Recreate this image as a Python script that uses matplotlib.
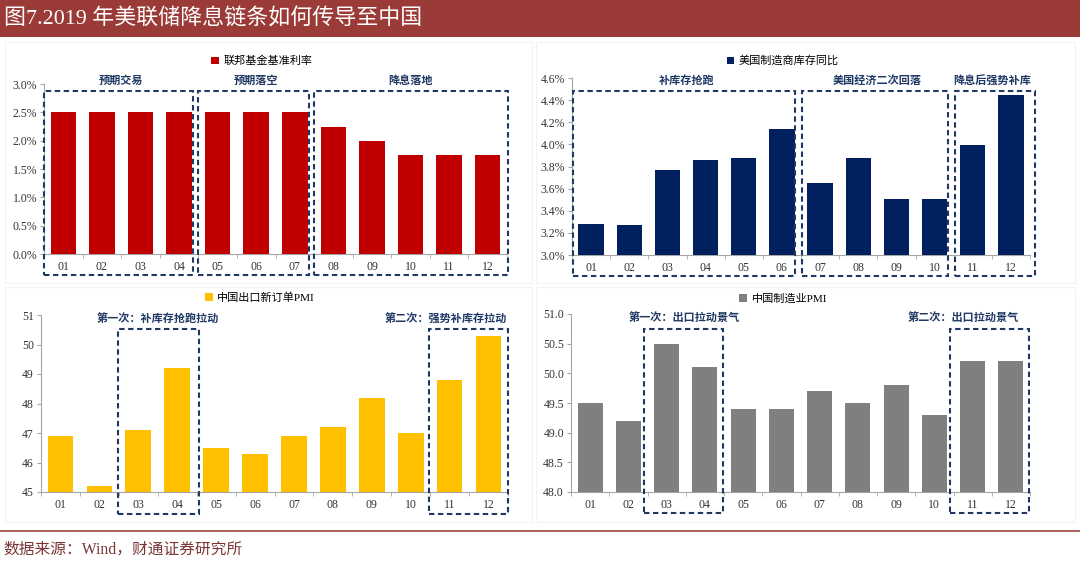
import matplotlib
matplotlib.use("Agg")
import matplotlib.pyplot as plt
from matplotlib.patches import Rectangle
from matplotlib.lines import Line2D
import matplotlib.ticker as mticker

plt.rcParams['font.family'] = ['Liberation Serif', 'Noto Sans CJK SC', 'DejaVu Sans']

# ---------------- data ----------------
months = ['01', '02', '03', '04', '05', '06', '07', '08', '09', '10', '11', '12']

fed_rate = [2.5, 2.5, 2.5, 2.5, 2.5, 2.5, 2.5, 2.25, 2.0, 1.75, 1.75, 1.75]
us_inventory = [3.28, 3.27, 3.77, 3.86, 3.88, 4.14, 3.65, 3.88, 3.51, 3.51, 3.99, 4.45]
cn_export_pmi = [46.9, 45.2, 47.1, 49.2, 46.5, 46.3, 46.9, 47.2, 48.2, 47.0, 48.8, 50.3]
cn_mfg_pmi = [49.5, 49.2, 50.5, 50.1, 49.4, 49.4, 49.7, 49.5, 49.8, 49.3, 50.2, 50.2]

title = '图7.2019 年美联储降息链条如何传导至中国'
source = '数据来源：Wind，财通证券研究所'

leg_fed = '联邦基金基准利率'
leg_inv = '美国制造商库存同比'
leg_exp = '中国出口新订单PMI'
leg_mfg = '中国制造业PMI'

# groups: (first index, last index, label)
fed_groups = [(0, 3, '预期交易'), (4, 6, '预期落空'), (7, 11, '降息落地')]
inv_groups = [(0, 5, '补库存抢跑'), (6, 9, '美国经济二次回落'), (10, 11, '降息后强势补库')]
exp_groups = [(2, 3, '第一次：补库存抢跑拉动'), (10, 11, '第二次：强势补库存拉动')]
mfg_groups = [(2, 3, '第一次：出口拉动景气'), (10, 11, '第二次：出口拉动景气')]

# ---------------- figure ----------------
W, H = 1080, 565
fig = plt.figure(figsize=(W / 100, H / 100), dpi=100)
fig.patch.set_facecolor('white')

NAVY = '#1F3864'
BOX = '#1F3864'


def px_axes(x0, y0, x1, y1):
    return fig.add_axes([x0 / W, 1 - y1 / H, (x1 - x0) / W, (y1 - y0) / H])


def fig_rect(x0, y0, x1, y1, **kw):
    fig.add_artist(Rectangle((x0 / W, 1 - y1 / H), (x1 - x0) / W, (y1 - y0) / H,
                             transform=fig.transFigure, **kw))


# title bar
fig_rect(0, 0, W, 37, facecolor='#9B3B38', edgecolor='none')
fig.text(4 / W, 1 - 19 / H, title, color='white', fontsize=15.8, va='center', ha='left')

# faint panel borders
for (a, b, c, d) in [(5, 42, 532, 283), (536, 42, 1075, 283), (5, 287, 532, 522), (536, 287, 1075, 522)]:
    fig_rect(a, b, c, d, facecolor='none', edgecolor='#F3F3F3', lw=0.8)

# bottom line and source
fig.add_artist(Line2D([0, 1], [1 - 531 / H, 1 - 531 / H], transform=fig.transFigure,
                      color='#A55050', lw=1.3))
fig.text(3 / W, 1 - 550 / H, source, color='#7A3535', fontsize=11.3, va='center', ha='left')


def style_axes(ax, ylim, yticks, fmt):
    x = list(range(len(months)))
    ax.set_xlim(-0.5, len(months) - 0.5)
    ax.set_ylim(*ylim)
    ax.set_yticks(yticks)
    ax.yaxis.set_major_formatter(mticker.FuncFormatter(fmt))
    ax.set_xticks(x)
    ax.set_xticklabels(months)
    ax.set_xticks([i + 0.5 for i in range(-1, len(months))], minor=True)
    for s in ['top', 'right']:
        ax.spines[s].set_visible(False)
    for s in ['left', 'bottom']:
        ax.spines[s].set_color('#A6A6A6')
        ax.spines[s].set_linewidth(0.8)
    ax.tick_params(axis='y', length=3, color='#A6A6A6', labelsize=8.5, labelcolor='#333333', pad=2)
    ax.tick_params(axis='x', which='major', length=0, labelsize=8.5, labelcolor='#333333', pad=5)
    ax.tick_params(axis='x', which='minor', length=3, color='#A6A6A6', direction='out')
    ax.set_facecolor('none')


def draw_box(ax, i0, i1, ytop, ybot, pad_l=0.03, pad_r=0.1):
    tr = ax.get_xaxis_transform()
    xa = i0 - 0.5 + pad_l
    xb = i1 + 0.5 - pad_r
    ax.add_patch(Rectangle((xa, ybot), xb - xa, ytop - ybot, transform=tr, fill=False,
                           edgecolor=BOX, lw=1.5, linestyle=(0, (2.6, 1.7)), clip_on=False, zorder=5))


def legend(ax, color, label, xc, yc):
    h = Rectangle((0, 0), 1, 1, facecolor=color, edgecolor='none')
    ax.legend([h], [label], loc='center', bbox_to_anchor=(xc, yc), frameon=False,
              fontsize=8, handlelength=0.7, handleheight=0.7, handletextpad=0.4,
              borderaxespad=0, borderpad=0)


pct = lambda v, p: f'{v:.1f}%'
integer = lambda v, p: f'{v:.0f}'
one = lambda v, p: f'{v:.1f}'

x = list(range(len(months)))
bw = 0.66

# ---- top-left: Fed funds rate ----
ax1 = px_axes(44, 84, 507, 254)
ax1.bar(x, fed_rate, width=bw, color='#C00000', zorder=3)
style_axes(ax1, (0, 3.0), [0, 0.5, 1.0, 1.5, 2.0, 2.5, 3.0], pct)
legend(ax1, '#C00000', leg_fed, 0.47, 1.135)
for k, (i0, i1, lab) in enumerate(fed_groups):
    draw_box(ax1, i0, i1, 0.959, -0.124, pad_l=0.0, pad_r=0.13 if k < 2 else -0.03)
    ax1.text((i0 + i1) / 2, 1.02, lab, transform=ax1.get_xaxis_transform(), ha='center', va='center',
             fontsize=8, color=NAVY, fontweight='bold')

# ---- top-right: US manufacturer inventories ----
ax2 = px_axes(572, 78, 1030, 255)
ax2.bar(x, us_inventory, width=bw, color='#002060', zorder=3)
style_axes(ax2, (3.0, 4.6), [3.0, 3.2, 3.4, 3.6, 3.8, 4.0, 4.2, 4.4, 4.6], pct)
legend(ax2, '#002060', leg_inv, 0.46, 1.096)
for k, (i0, i1, lab) in enumerate(inv_groups):
    draw_box(ax2, i0, i1, 0.927, -0.119, pad_l=0.03, pad_r=0.15 if k < 2 else -0.12)
    ax2.text((i0 + i1) / 2, 0.985, lab, transform=ax2.get_xaxis_transform(), ha='center', va='center',
             fontsize=8, color=NAVY, fontweight='bold')

# ---- bottom-left: China export new orders PMI ----
ax3 = px_axes(41, 315, 508, 492)
ax3.bar(x, cn_export_pmi, width=bw, color='#FFC000', zorder=3)
style_axes(ax3, (45, 51), [45, 46, 47, 48, 49, 50, 51], integer)
legend(ax3, '#FFC000', leg_exp, 0.469, 1.096)
for k, (i0, i1, lab) in enumerate(exp_groups):
    draw_box(ax3, i0, i1, 0.921, -0.124, pad_l=-0.02, pad_r=-0.06 if k == 0 else 0.0)
    if k == 0:
        ax3.text((i0 + i1) / 2, 0.977, lab, transform=ax3.get_xaxis_transform(), ha='center',
                 va='center', fontsize=8, color=NAVY, fontweight='bold')
    else:
        ax3.text(i1 + 0.48, 0.977, lab, transform=ax3.get_xaxis_transform(), ha='right',
                 va='center', fontsize=8, color=NAVY, fontweight='bold')

# ---- bottom-right: China manufacturing PMI ----
ax4 = px_axes(571, 314, 1030, 492)
ax4.bar(x, cn_mfg_pmi, width=bw, color='#7F7F7F', zorder=3)
style_axes(ax4, (48.0, 51.0), [48.0, 48.5, 49.0, 49.5, 50.0, 50.5, 51.0], one)
legend(ax4, '#7F7F7F', leg_mfg, 0.462, 1.084)
for k, (i0, i1, lab) in enumerate(mfg_groups):
    draw_box(ax4, i0, i1, 0.916, -0.118, pad_l=-0.09, pad_r=0.03)
    if k == 0:
        ax4.text((i0 + i1) / 2 - 0.05, 0.977, lab, transform=ax4.get_xaxis_transform(), ha='center',
                 va='center', fontsize=8, color=NAVY, fontweight='bold')
    else:
        ax4.text(i1 + 0.2, 0.977, lab, transform=ax4.get_xaxis_transform(), ha='right',
                 va='center', fontsize=8, color=NAVY, fontweight='bold')

fig.savefig('out.png', dpi=100, facecolor='white')
